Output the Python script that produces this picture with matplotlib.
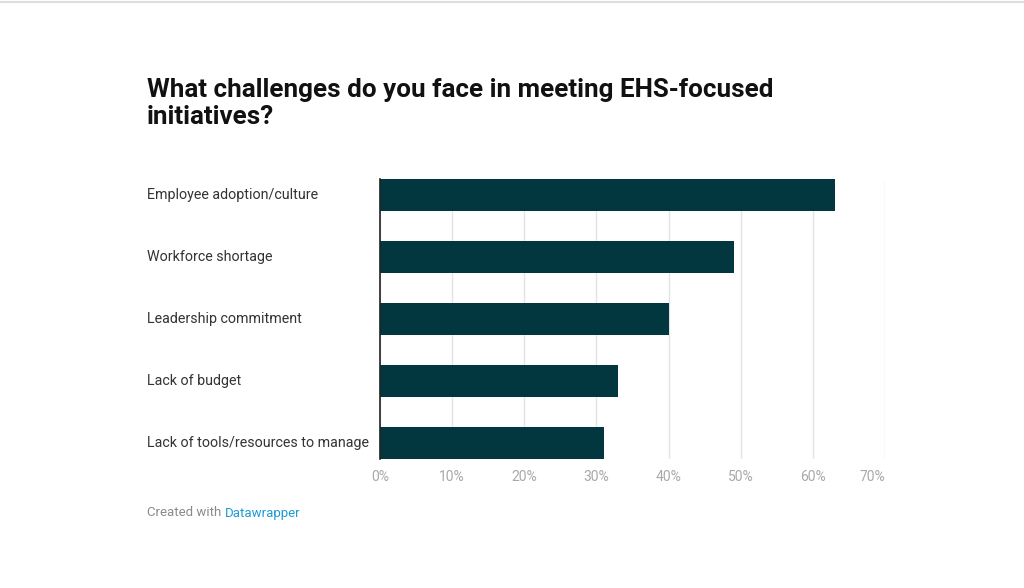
#!/usr/bin/env python3
"""
Horizontal bar chart: challenges in meeting EHS-focused initiatives.
"""

import matplotlib
matplotlib.use("Agg")
import matplotlib.pyplot as plt
from matplotlib.lines import Line2D
from matplotlib.transforms import blended_transform_factory
from matplotlib.ticker import FuncFormatter

plt.rcParams["font.family"] = ["Roboto", "DejaVu Sans"]

# Data
categories = [
    "Employee adoption/culture",
    "Workforce shortage",
    "Leadership commitment",
    "Lack of budget",
    "Lack of tools/resources to manage",
]
values = [63, 49, 40, 33, 31]
x_ticks = [0, 10, 20, 30, 40, 50, 60, 70]

BAR_COLOR = "#02373f"
GRID_COLOR = "#e3e3e3"
TICK_COLOR = "#a8a8a8"
LABEL_COLOR = "#333333"

fig = plt.figure(figsize=(10.24, 5.88), dpi=100)
ax = fig.add_axes([380 / 1024, 1 - 459 / 588, 505 / 1024, 280 / 588])

y_pos = list(range(len(categories)))
bar_h = 0.516
ax.barh(y_pos, values, height=bar_h, color=BAR_COLOR, zorder=3)

ax.set_xlim(0, 70)
ax.set_ylim(len(categories) - 1 + bar_h / 2, -bar_h / 2)

ax.set_xticks(x_ticks)
ax.xaxis.set_major_formatter(FuncFormatter(lambda v, p: f"{int(v)}%"))
ax.tick_params(axis="x", length=0, pad=8, labelsize=10, labelcolor=TICK_COLOR)
# datawrapper right-aligns the last tick label to the chart edge
ax.get_xticklabels()[-1].set_horizontalalignment("right")
ax.set_yticks([])
ax.grid(axis="x", color=GRID_COLOR, linewidth=1, zorder=0)
for s in ["top", "right", "bottom"]:
    ax.spines[s].set_visible(False)
ax.spines["left"].set_color("#222222")
ax.spines["left"].set_linewidth(1.2)
ax.spines["left"].set_zorder(4)

# category labels at the left margin
label_tr = blended_transform_factory(fig.transFigure, ax.transData)
for y, name in zip(y_pos, categories):
    ax.text(147 / 1024, y, name, transform=label_tr,
            ha="left", va="center", fontsize=10.3, color=LABEL_COLOR)

# title
fig.text(147 / 1024, 1 - 78 / 588, "What challenges do you face in meeting EHS-focused\ninitiatives?",
         ha="left", va="top", fontsize=18.7, fontweight="bold", color="#111111", linespacing=1.15)

# footer
t1 = fig.text(147 / 1024, 1 - 513 / 588, "Created with ", ha="left", va="center",
              fontsize=9.5, color="#8a8a8a")
fig.canvas.draw()
bb = t1.get_window_extent()
fig.text(bb.x1 / 1024, 1 - 513 / 588, "Datawrapper", ha="left", va="center",
         fontsize=9.5, color="#1d9ad6")

# thin browser line at top
fig.add_artist(Line2D([0, 1], [1 - 2 / 588, 1 - 2 / 588], color="#dddddd", linewidth=1.5))

plt.savefig("out.png", dpi=100)
plt.close()
